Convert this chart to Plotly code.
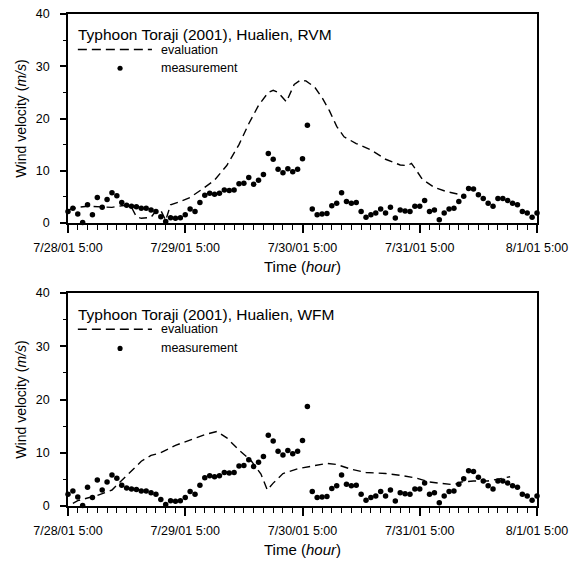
import plotly.graph_objects as go
from plotly.subplots import make_subplots

# ---- data (hours after 7/28/01 5:00) ----
meas_hours = list(range(0, 97))
meas_vals = [2.2, 2.8, 1.7, 0.1, 3.5, 1.6, 4.9, 3.0, 4.5, 5.8,
             5.2, 3.9, 3.4, 3.2, 3.1, 2.8, 2.8, 2.5, 2.2, 1.2,
             0.3, 1.0, 0.9, 1.0, 1.6, 2.7, 2.2, 3.9, 5.3, 5.7,
             5.5, 5.7, 6.3, 6.2, 6.3, 7.5, 7.6, 8.7, 7.4, 8.2,
             9.3, 13.3, 12.2, 10.3, 9.6, 10.4, 9.8, 10.3, 12.3, 18.7,
             2.7, 1.6, 1.7, 1.8, 3.3, 3.8, 5.8, 4.1, 3.8, 3.9,
             2.2, 1.1, 1.6, 1.9, 2.7, 1.9, 3.0, 0.95, 2.5, 2.3,
             2.2, 3.2, 3.2, 4.3, 2.2, 2.5, 0.6, 1.9, 2.7, 2.8,
             4.1, 5.1, 6.6, 6.5, 5.4, 4.7, 3.8, 3.2, 4.7, 4.7,
             4.3, 3.8, 3.5, 2.2, 1.9, 1.1, 1.9]

rvm_hours = [0, 1, 2, 4, 7, 9, 11, 12, 13, 14, 15, 17, 18, 19, 20, 21, 23,
             25, 27.5, 30, 32.5, 35, 37, 39, 41, 42, 43, 44.7, 46.3, 47.5,
             48.7, 50.5, 52, 53.5, 55, 56.5, 59, 62, 65, 68, 69.5, 70.3, 71,
             72.5, 75, 77.5, 81]
rvm_vals = [2.5, 2.8, 3.0, 3.2, 3.0, 3.0, 3.3, 3.4, 3.0, 1.2, 0.9, 1.1, 2.3,
            2.4, 0.5, 3.5, 4.1, 4.9, 6.5, 8.2, 11.0, 15.0, 19.0, 22.5, 25.0,
            25.4, 25.0, 23.2, 26.5, 27.3, 27.2, 26.0, 24.0, 21.5, 18.5, 16.5,
            15.2, 14.0, 12.2, 11.1, 11.0, 11.4, 10.5, 8.4, 6.8, 6.0, 5.3]

wfm_hours = [1, 2, 4, 6, 9, 11, 13, 15, 17, 19, 22, 25, 28, 30.5, 32.5, 35,
             37.5, 39.5, 40.8, 42, 44, 47, 50, 53, 55, 58, 61, 65, 68.5, 71.5,
             74, 77, 79, 80.5, 83, 86, 88, 90.5]
wfm_vals = [0.5, 1.0, 1.5, 2.0, 3.0, 4.8, 6.5, 8.4, 9.5, 10.0, 11.4, 12.4,
            13.4, 14.0, 12.8, 10.5, 8.5, 6.0, 3.0, 4.3, 6.1, 7.0, 7.5, 8.0,
            7.8, 6.9, 6.3, 6.1, 5.7, 5.2, 4.5, 4.2, 4.0, 4.5, 4.7, 4.7, 5.1, 5.5]

x_tickvals = [0, 24, 48, 72, 96]
x_ticktext = ["7/28/01 5:00", "7/29/01 5:00", "7/30/01 5:00",
              "7/31/01 5:00", "8/1/01 5:00"]
y_tickvals = [0, 10, 20, 30, 40]

titles = ["Typhoon Toraji (2001), Hualien, RVM",
          "Typhoon Toraji (2001), Hualien, WFM"]

FONT = "Liberation Sans, Arial, sans-serif"

fig = make_subplots(rows=2, cols=1)

for row, (eh, ev) in enumerate([(rvm_hours, rvm_vals), (wfm_hours, wfm_vals)], start=1):
    fig.add_trace(go.Scatter(x=eh, y=ev, mode="lines",
                             line=dict(color="black", width=1.4, dash="8px,5px"),
                             showlegend=False, cliponaxis=False), row=row, col=1)
    fig.add_trace(go.Scatter(x=meas_hours, y=meas_vals, mode="markers",
                             marker=dict(color="black", size=5.5),
                             showlegend=False, cliponaxis=False), row=row, col=1)

ydoms = [[0.5752, 1.0], [0.0, 0.4329]]
for i in range(2):
    xa = "xaxis" if i == 0 else "xaxis2"
    ya = "yaxis" if i == 0 else "yaxis2"
    fig.layout[xa].update(
        showline=True, linecolor="black", linewidth=1.6, mirror=True,
        showgrid=False, zeroline=False, automargin=False,
        ticks="outside", tickcolor="black", tickwidth=1.5, ticklen=8,
        tickfont=dict(family=FONT, size=12.5, color="black"),
        range=[0, 96], tickmode="array", tickvals=x_tickvals, ticktext=x_ticktext,
        ticklabelstandoff=4, ticklabeloverflow="allow",
        minor=dict(dtick=2, tick0=0, ticks="outside", ticklen=5,
                   tickcolor="black", tickwidth=1.4, showgrid=False),
        title=dict(text="Time (<i>hour</i>)", standoff=8,
                   font=dict(family=FONT, size=15, color="black")),
        domain=[0, 1])
    fig.layout[ya].update(
        showline=True, linecolor="black", linewidth=1.6, mirror=True,
        showgrid=False, zeroline=False, automargin=False,
        ticks="outside", tickcolor="black", tickwidth=1.5, ticklen=6,
        tickfont=dict(family=FONT, size=12.5, color="black"),
        range=[0, 40], tickmode="array", tickvals=y_tickvals,
        ticklabelstandoff=8, ticklabeloverflow="allow",
        minor=dict(dtick=5, tick0=0, ticks="outside", ticklen=3,
                   tickcolor="black", tickwidth=1.3, showgrid=False),
        title=dict(text="Wind velocity (<i>m/s</i>)", standoff=6,
                   font=dict(family=FONT, size=14, color="black")),
        domain=ydoms[i])

# in-plot titles and legend keys
for i in range(2):
    xr = "x domain" if i == 0 else "x2 domain"
    yr = "y domain" if i == 0 else "y2 domain"
    fig.add_annotation(text=titles[i], xref=xr, yref=yr, x=0.018, y=0.90,
                       xanchor="left", yanchor="middle", showarrow=False,
                       font=dict(family=FONT, size=15.5, color="black"))
    fig.add_shape(type="line", xref=xr, yref=yr, x0=0.021, x1=0.179, y0=0.83, y1=0.83,
                  line=dict(color="black", width=1.4, dash="9px,5px"))
    fig.add_annotation(text="evaluation", xref=xr, yref=yr, x=0.195, y=0.83,
                       xanchor="left", yanchor="middle", showarrow=False,
                       font=dict(family=FONT, size=12.5, color="black"))
    fig.add_shape(type="circle", xref=xr, yref=yr, x0=0.1055, x1=0.1165,
                  y0=0.728, y1=0.752, fillcolor="black", line=dict(color="black", width=0))
    fig.add_annotation(text="measurement", xref=xr, yref=yr, x=0.195, y=0.74,
                       xanchor="left", yanchor="middle", showarrow=False,
                       font=dict(family=FONT, size=12.5, color="black"))

# page body adds an 8px offset, so the figure is sized to fit inside the window
fig.update_layout(width=576, height=557,
                  margin=dict(l=60, r=47, t=6, b=59, autoexpand=False),
                  paper_bgcolor="white", plot_bgcolor="white",
                  font=dict(family=FONT, color="black"),
                  showlegend=False)

fig.write_html("out.html")
